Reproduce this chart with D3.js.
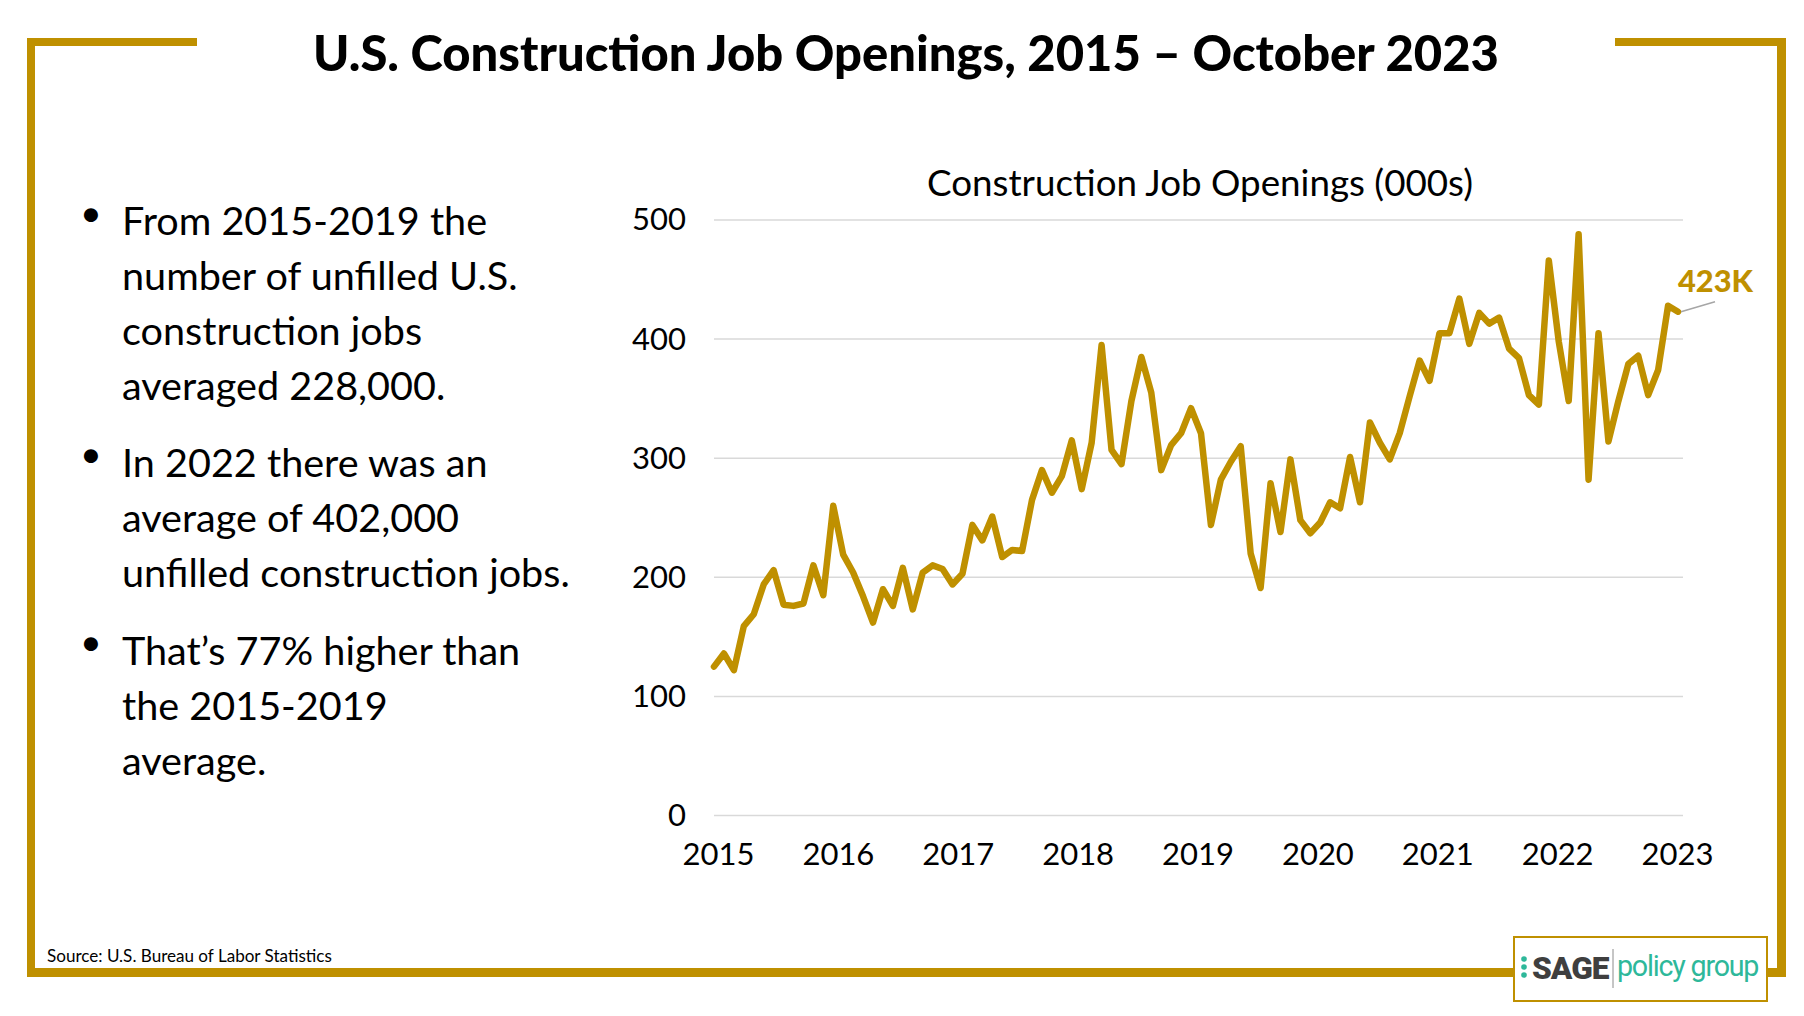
<!DOCTYPE html>
<html>
<head>
<meta charset="utf-8">
<script src="https://cdn.jsdelivr.net/npm/d3@7"></script>
<style>
  html, body { margin: 0; padding: 0; background: #fff; }
  svg { display: block; }
</style>
</head>
<body>
<svg id="chart" width="1804" height="1016"></svg>
<script>
// ---------------- DATA ----------------
const values = [
  125,136,122,159,169,194,206,177,176,178,210,185,260,219,204,184,162,190,176,208,
  173,204,210,207,194,203,244,231,251,217,223,222,265,290,271,285,315,274,313,
  395,307,295,348,385,355,290,311,321,342,321,244,282,297,310,220,191,279,238,
  299,248,237,246,263,258,301,263,330,313,299,321,352,382,365,405,405,434,
  396,
  422,413,418,392,384,353,345,466,398,348,488,282,405,314,348,379,386,353,374,428,423
];
const yearLabels = ["2015","2016","2017","2018","2019","2020","2021","2022","2023"];
const yTicks = [0, 100, 200, 300, 400, 500];
const lastLabel = "423K";
const title = "U.S. Construction Job Openings, 2015 \u2013 October 2023";
const chartTitle = "Construction Job Openings (000s)";
const bullets = [
  ["From 2015-2019 the", "number of unfilled U.S.", "construction jobs", "averaged 228,000."],
  ["In 2022 there was an", "average of 402,000", "unfilled construction jobs."],
  ["That\u2019s 77% higher than", "the 2015-2019", "average."]
];
const sourceText = "Source: U.S. Bureau of Labor Statistics";

// ---------------- STYLE ----------------
const GOLD = "#BF9000";
const FONT = "Lato, 'Open Sans', sans-serif";
const svg = d3.select("#chart");

function fitWidth(sel, target) {
  const node = sel.node();
  const fs = parseFloat(sel.attr("font-size"));
  const w = node.getComputedTextLength();
  if (w > 0) sel.attr("font-size", (fs * target / w).toFixed(2));
  return sel;
}

// ---------------- FRAME ----------------
const frame = svg.append("g").attr("fill", GOLD);
frame.append("rect").attr("x", 27).attr("y", 38).attr("width", 170).attr("height", 8);   // top-left
frame.append("rect").attr("x", 27).attr("y", 38).attr("width", 8).attr("height", 939);   // left
frame.append("rect").attr("x", 27).attr("y", 968).attr("width", 1490).attr("height", 9); // bottom
frame.append("rect").attr("x", 1615).attr("y", 38).attr("width", 171).attr("height", 8); // top-right
frame.append("rect").attr("x", 1777).attr("y", 38).attr("width", 9).attr("height", 939); // right
frame.append("rect").attr("x", 1765).attr("y", 968).attr("width", 21).attr("height", 9); // bottom-right stub

// ---------------- TITLE ----------------
const t = svg.append("text")
  .attr("x", 906).attr("y", 71)
  .attr("text-anchor", "middle")
  .attr("font-family", FONT).attr("font-weight", 900)
  .attr("font-size", 48).attr("fill", "#000")
  .text(title);
fitWidth(t, 1186);

// ---------------- BULLETS ----------------
const bulletTop = [219.7, 461, 649];
const lineGap = 55;
const bg = svg.append("g").attr("font-family", FONT).attr("fill", "#000");
let fsBullet = 34;
const probe = bg.append("text").attr("font-size", 34).text(bullets[1][2]);
fitWidth(probe, 448);
fsBullet = parseFloat(probe.attr("font-size"));
probe.remove();
bullets.forEach((lines, i) => {
  bg.append("text")
    .attr("x", 80).attr("y", bulletTop[i] + 6)
    .attr("font-size", fsBullet * 0.95)
    .text("\u2022");
  lines.forEach((ln, j) => {
    bg.append("text")
      .attr("x", 122)
      .attr("y", bulletTop[i] + j * lineGap)
      .attr("dominant-baseline", "central")
      .attr("font-size", fsBullet)
      .text(ln);
  });
});

// ---------------- SOURCE ----------------
const src = svg.append("text")
  .attr("x", 47).attr("y", 955)
  .attr("dominant-baseline", "central")
  .attr("font-family", FONT).attr("font-size", 15).attr("fill", "#000")
  .text(sourceText);
fitWidth(src, 285);

// ---------------- CHART ----------------
const gridX0 = 714, gridX1 = 1683;
const lineX0 = 714, lineX1 = 1678;
const y = d3.scaleLinear().domain([0, 500]).range([815.5, 220]);
const x = d3.scaleLinear().domain([0, values.length - 1]).range([lineX0, lineX1]);
const xYears = d3.scalePoint().domain(yearLabels).range([lineX0 + 4, lineX1 - 1]);

// gridlines
svg.append("g").selectAll("line").data(yTicks).join("line")
  .attr("x1", gridX0).attr("x2", gridX1)
  .attr("y1", d => y(d)).attr("y2", d => y(d))
  .attr("stroke", "#D9D9D9").attr("stroke-width", 1.5);

// y axis labels
const yAxis = svg.append("g")
  .attr("transform", `translate(${gridX0 - 28},0)`)
  .call(d3.axisLeft(y).tickValues(yTicks).tickSize(0).tickPadding(0));
yAxis.select(".domain").remove();
yAxis.selectAll("text")
  .attr("font-family", FONT).attr("font-size", 31).attr("fill", "#000");

// x axis labels
const xAxis = svg.append("g")
  .attr("transform", `translate(0,${y(0)})`)
  .call(d3.axisBottom(xYears).tickSize(0).tickPadding(27));
xAxis.select(".domain").remove();
xAxis.selectAll("text")
  .attr("font-family", FONT).attr("font-size", 31).attr("fill", "#000");

// chart title
const ct = svg.append("text")
  .attr("x", 1200).attr("y", 196)
  .attr("text-anchor", "middle")
  .attr("font-family", FONT).attr("font-size", 30).attr("fill", "#000")
  .text(chartTitle);
fitWidth(ct, 546);

// line
const line = d3.line().x((d, i) => x(i)).y(d => y(d));
svg.append("path")
  .datum(values)
  .attr("d", line)
  .attr("fill", "none")
  .attr("stroke", GOLD)
  .attr("stroke-width", 6.5)
  .attr("stroke-linejoin", "round")
  .attr("stroke-linecap", "round");

// last-point label with leader
const lastI = values.length - 1;
const lx = x(lastI), ly = y(values[lastI]);
svg.append("line")
  .attr("x1", lx + 3).attr("y1", ly)
  .attr("x2", lx + 37).attr("y2", ly - 10)
  .attr("stroke", "#A6A6A6").attr("stroke-width", 1.5);
const ll = svg.append("text")
  .attr("x", lx).attr("y", ly - 31)
  .attr("dominant-baseline", "central")
  .attr("font-family", FONT).attr("font-weight", 900)
  .attr("font-size", 30).attr("fill", GOLD)
  .text(lastLabel);
fitWidth(ll, 75);

// ---------------- LOGO ----------------
const logo = svg.append("g");
logo.append("rect")
  .attr("x", 1514).attr("y", 937).attr("width", 253).attr("height", 64)
  .attr("fill", "#fff").attr("stroke", GOLD).attr("stroke-width", 2);
[959, 967, 975].forEach(cy => {
  logo.append("circle").attr("cx", 1524).attr("cy", cy).attr("r", 2.8).attr("fill", "#2EB89A");
});
const sage = logo.append("text")
  .attr("x", 1532).attr("y", 968)
  .attr("dominant-baseline", "central")
  .attr("font-family", "Roboto, Lato, sans-serif").attr("font-weight", 900)
  .attr("font-size", 28).attr("letter-spacing", -1).attr("fill", "#3F3F3F")
  .text("SAGE");
fitWidth(sage, 76);
logo.append("line")
  .attr("x1", 1613).attr("x2", 1613).attr("y1", 949).attr("y2", 988)
  .attr("stroke", "#8C8C8C").attr("stroke-width", 1);
const pg = logo.append("text")
  .attr("x", 1617).attr("y", 966)
  .attr("dominant-baseline", "central")
  .attr("font-family", "Roboto, Lato, sans-serif").attr("font-weight", 400)
  .attr("font-size", 28).attr("letter-spacing", -1.2).attr("fill", "#2EB89A")
  .text("policy group");
fitWidth(pg, 141);
</script>
</body>
</html>
